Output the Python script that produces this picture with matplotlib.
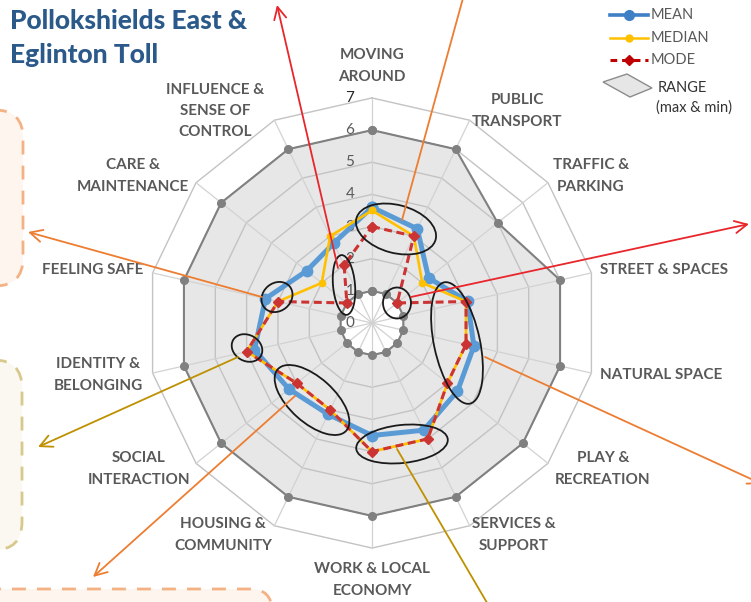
import matplotlib
matplotlib.use('Agg')
import matplotlib.pyplot as plt
import numpy as np
from matplotlib.patches import Ellipse, FancyBboxPatch, Polygon

# ---------------- data ----------------
categories = ['MOVING\nAROUND', 'PUBLIC\nTRANSPORT', 'TRAFFIC &\nPARKING', 'STREET & SPACES',
              'NATURAL SPACE', 'PLAY &\nRECREATION', 'SERVICES &\nSUPPORT', 'WORK & LOCAL\nECONOMY',
              'HOUSING &\nCOMMUNITY', 'SOCIAL\nINTERACTION', 'IDENTITY &\nBELONGING', 'FEELING SAFE',
              'CARE &\nMAINTENANCE', 'INFLUENCE &\nSENSE OF\nCONTROL']
mean_vals = [3.6, 3.25, 2.25, 3.05, 3.25, 3.4, 3.7, 3.5, 3.15, 3.3, 3.75, 3.4, 2.6, 2.75]
median_vals = [3.5, 3, 2, 3, 3, 3, 4, 4, 3, 3, 4, 3, 2, 3]
mode_vals = [3, 3, 1, 3, 3, 3, 4, 4, 3, 3, 4, 3, 1, 2]
max_vals = [6, 6, 5, 6, 6, 6, 6, 6, 6, 6, 6, 6, 6, 6]
min_vals = [1, 1, 1, 1, 1, 1, 1, 1, 1, 1, 1, 1, 1, 1]
r_ticks = [0, 1, 2, 3, 4, 5, 6, 7]
title_lines = ['Pollokshields East &', 'Eglinton Toll']
legend_labels = ['MEAN', 'MEDIAN', 'MODE', 'RANGE', '(max & min)']

# ---------------- layout ----------------
W, H = 751, 602
CX, CY = 372, 323          # centre pixel
PPU = 32.15                # pixels per unit
FONT = ['Lato', 'DejaVu Sans']
GRAY_TXT = '#595959'

fig = plt.figure(figsize=(W / 100, H / 100), dpi=100)
fig.patch.set_facecolor('white')

L = 7.5
R = L * PPU
ax = fig.add_axes([(CX - R) / W, (H - CY - R) / H, 2 * R / W, 2 * R / H])
ax.set_xlim(-L, L)
ax.set_ylim(-L, L)
ax.axis('off')

n = len(categories)
theta = np.arange(n) * 2 * np.pi / n


def xy(vals):
    v = np.asarray(vals, dtype=float)
    x = v * np.sin(theta)
    y = v * np.cos(theta)
    return np.append(x, x[0]), np.append(y, y[0])


# range fill
mx, my = xy(max_vals)
nx, ny = xy(min_vals)
ax.fill(mx, my, color='#e7e7e7', zorder=1, lw=0)
ax.fill(nx, ny, color='white', zorder=1.5, lw=0)

# grid
for r in r_ticks[1:]:
    gx, gy = xy([r] * n)
    ax.plot(gx, gy, color='#c3c3c3', lw=1.0, zorder=2)
for t in theta:
    ax.plot([0, 7 * np.sin(t)], [0, 7 * np.cos(t)], color='#d2d2d2', lw=0.9, zorder=2)

# tick labels
for r in r_ticks:
    ax.text(-22 / PPU, r, str(r), ha='center', va='center', fontsize=11,
            color='#262626' if r == 7 else GRAY_TXT, family=FONT, zorder=3)

# range outlines
ax.plot(mx, my, color='#808080', lw=1.5, marker='o', ms=5.5, zorder=3)
ax.plot(nx, ny, color='#808080', lw=1.5, marker='o', ms=5.5, zorder=3)

# series
ax.plot(*xy(mean_vals), color='#5b9bd5', lw=3.6, marker='o', ms=7.5, zorder=4)
ax.plot(*xy(median_vals), color='#ffc000', lw=1.9, marker='o', ms=4.5, zorder=5)
ax.plot(*xy(mode_vals), color='#cc3333', lw=2.2, ls=(0, (2.6, 1.5)), marker='D', ms=5, zorder=6)

# ---------------- overlay (pixel coordinates) ----------------
ov = fig.add_axes([0, 0, 1, 1], zorder=10)
ov.set_xlim(0, W)
ov.set_ylim(H, 0)
ov.axis('off')
ov.patch.set_alpha(0)

# category labels
label_pos = [(372, 66, 'center'), (517, 111, 'center'), (591, 176, 'center'), (600, 270, 'left'),
             (600, 375, 'left'), (603, 469, 'center'), (514, 535, 'center'), (372, 580, 'center'),
             (223, 535, 'center'), (139, 469, 'center'), (143, 375, 'right'), (143, 270, 'right'),
             (133, 176, 'center'), (215, 111, 'center')]
for lab, (px, py, ha) in zip(categories, label_pos):
    ov.text(px, py, lab, ha=ha, va='center', fontsize=11, weight='bold', color=GRAY_TXT,
            family=FONT, linespacing=1.65, multialignment='center')

# title
ov.text(10, 29, title_lines[0], fontsize=19, weight='black', color='#2b5a8a', family=FONT, va='baseline')
ov.text(10, 63, title_lines[1], fontsize=19, weight='black', color='#2b5a8a', family=FONT, va='baseline')

# legend
ov.plot([610, 648], [15, 15], color='#3f7fc6', lw=2.6)
ov.plot([629], [15], color='#3f7fc6', marker='o', ms=7)
ov.plot([610, 648], [38, 38], color='#ffc000', lw=1.8)
ov.plot([629], [38], color='#ffc000', marker='o', ms=5)
ov.plot([610, 648], [60, 60], color='#c00000', lw=2.2, ls=(0, (2.2, 1.6)))
ov.plot([629], [60], color='#c00000', marker='D', ms=5)
ov.add_patch(Polygon([(603, 82), (627, 74), (652, 88), (630, 97)], closed=True,
                     facecolor='#e6e6e6', edgecolor='#8c8c8c', lw=1))
for lab, yy in zip(legend_labels[:3], [15, 38, 60]):
    ov.text(651, yy, lab, ha='left', va='center', fontsize=10.5, color=GRAY_TXT, family=FONT)
ov.text(658, 88, legend_labels[3], ha='left', va='center', fontsize=10.5, color='#333333', family=FONT)
ov.text(656, 108, legend_labels[4], ha='left', va='center', fontsize=10.5, color='#333333', family=FONT)

# dashed boxes at the left / bottom
ov.add_patch(FancyBboxPatch((-60, 110), 83, 176, boxstyle='round,pad=0,rounding_size=28',
                            facecolor='#fdf5ee', edgecolor='#f4b183', lw=2, ls=(0, (5, 4))))
ov.add_patch(FancyBboxPatch((-60, 360), 82, 190, boxstyle='round,pad=0,rounding_size=28',
                            facecolor='#fbf8f1', edgecolor='#d8c88c', lw=2, ls=(0, (5, 4))))
ov.add_patch(FancyBboxPatch((-60, 589), 332, 80, boxstyle='round,pad=0,rounding_size=22',
                            facecolor='#fdf5ee', edgecolor='#f4b183', lw=2, ls=(0, (5, 4))))

# hand-drawn ellipses
ellipses = [((396, 229), 82, 48, 15), ((344, 285), 22, 60, -5), ((397, 303), 28, 31, 0),
            ((457, 343), 46, 124, -12), ((402, 444), 92, 38, -6), ((312, 400), 92, 45, 42),
            ((247, 348), 32, 26, 30), ((277, 297), 33, 28, -40)]
for (c, w, h, a) in ellipses:
    ov.add_patch(Ellipse(c, w, h, angle=a, fill=False, edgecolor='#1a1a1a', lw=1.3))

# arrows
arrows = [((338, 268), (277, 5), '#e8262b'),
          ((402, 220), (468, -20), '#ed7d31'),
          ((411, 297), (749, 224), '#e8262b'),
          ((485, 357), (762, 484), '#ed7d31'),
          ((397, 449), (500, 625), '#bf9000'),
          ((262, 297), (28, 232), '#ed7d31'),
          ((238, 357), (38, 447), '#bf9000'),
          ((295, 396), (93, 577), '#ed7d31')]
for tail, head, col in arrows:
    ov.annotate('', xy=head, xytext=tail, annotation_clip=False,
                arrowprops=dict(arrowstyle='->', color=col, lw=1.3, mutation_scale=22,
                                shrinkA=0, shrinkB=0))

fig.savefig('out.png', dpi=100, facecolor='white')
